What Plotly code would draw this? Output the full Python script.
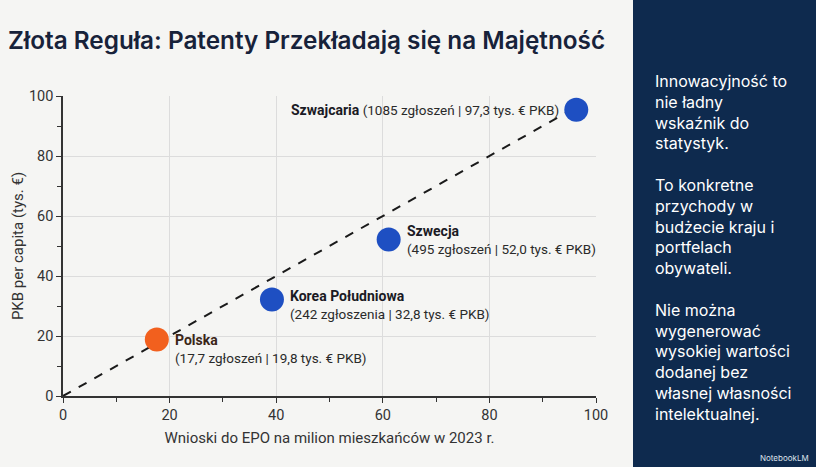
import plotly.graph_objects as go

# data
countries = ["Polska", "Korea Południowa", "Szwecja", "Szwajcaria"]
patents_per_million = [17.6, 39.2, 61.1, 96.3]
gdp_per_capita = [18.8, 32.2, 52.2, 95.4]
details = [
    "(17,7 zgłoszeń | 19,8 tys. € PKB)",
    "(242 zgłoszenia | 32,8 tys. € PKB)",
    "(495 zgłoszeń | 52,0 tys. € PKB)",
    "(1085 zgłoszeń | 97,3 tys. € PKB)",
]
trend_x = [0, 96]
trend_y = [0, 96]
x_ticks = [0, 20, 40, 60, 80, 100]
y_ticks = [0, 20, 40, 60, 80, 100]

side_text = [
    "Innowacyjność to", "nie ładny", "wskaźnik do", "statystyk.", "",
    "To konkretne", "przychody w", "budżecie kraju i", "portfelach", "obywateli.", "",
    "Nie można", "wygenerować", "wysokiej wartości", "dodanej bez",
    "własnej własności", "intelektualnej.",
]

W, H = 816, 467
BG = "#F5F5F3"
NAVY = "#0E2A4E"
ORANGE = "#F2601E"
BLUE = "#1E4FC2"
CHART_FONT = "Roboto"

fig = go.Figure()

fig.add_trace(go.Scatter(
    x=trend_x, y=trend_y, mode="lines",
    line=dict(color="#1a1a1a", width=2, dash="dash"),
    hoverinfo="skip", showlegend=False,
))

marker_colors = [ORANGE if c == "Polska" else BLUE for c in countries]
fig.add_trace(go.Scatter(
    x=patents_per_million, y=gdp_per_capita, mode="markers",
    marker=dict(size=24, color=marker_colors),
    text=countries, showlegend=False,
))

# point labels (bold name + detail line)
label_yshift = {"Polska": -9, "Korea Południowa": -6, "Szwecja": -1}
for name, px, py, det in zip(countries, patents_per_million, gdp_per_capita, details):
    name_color = "#3B2618" if name == "Polska" else "#1a1a24"
    name_html = f"<b><span style='color:{name_color};font-size:14px'>{name}</span></b>"
    if name == "Szwajcaria":
        fig.add_annotation(
            x=px, y=py, xref="x", yref="y",
            text=f"{name_html} {det}",
            showarrow=False, xanchor="right", yanchor="middle", xshift=-15,
            font=dict(family=CHART_FONT, size=13.5, color="#2a2a2a"),
        )
    else:
        fig.add_annotation(
            x=px, y=py, xref="x", yref="y",
            text=f"{name_html}<br>{det}",
            showarrow=False, xanchor="left", yanchor="middle", align="left",
            xshift=16, yshift=label_yshift[name],
            font=dict(family=CHART_FONT, size=13.5, color="#2a2a2a"),
        )

# right-hand dark panel
fig.add_shape(type="rect", xref="paper", yref="paper",
              x0=633 / W, x1=1.01, y0=-0.01, y1=1.01,
              fillcolor=NAVY, line_width=0, layer="below")

fig.add_annotation(
    xref="paper", yref="paper", x=653 / W, y=1 - 69 / H,
    text="<br>".join(side_text), showarrow=False,
    xanchor="left", yanchor="top", align="left",
    font=dict(family="Inter", size=16, color="#FFFFFF"),
)
fig.add_annotation(
    xref="paper", yref="paper", x=811 / W, y=1 - 458 / H,
    text="NotebookLM", showarrow=False, xanchor="right", yanchor="middle",
    font=dict(family="Inter", size=8, color="#DDE3EC"),
)

# title
fig.add_annotation(
    xref="paper", yref="paper", x=6 / W, y=1 - 40 / H,
    text="Złota Reguła: Patenty Przekładają się na Majętność", showarrow=False,
    xanchor="left", yanchor="middle",
    font=dict(family="Inter", size=24.3, color="#17223A", weight=600),
)

axis_common = dict(
    showline=True, linecolor="#333333", linewidth=1.5,
    ticks="outside", ticklen=5, tickcolor="#333333",
    showgrid=True, gridcolor="#DCDCDC", gridwidth=1,
    zeroline=False, automargin=False,
    tickfont=dict(family=CHART_FONT, size=14.5, color="#333333"),
    minor=dict(dtick=10, ticks="outside", ticklen=4, tickcolor="#333333", showgrid=False),
)

fig.update_xaxes(
    range=[0, 100], tickvals=x_ticks, domain=[63 / W, 596 / W],
    title=dict(text="Wnioski do EPO na milion mieszkańców w 2023 r.",
               font=dict(family=CHART_FONT, size=15, color="#333333"), standoff=9),
    **axis_common,
)
fig.update_yaxes(
    range=[0, 100], tickvals=y_ticks, domain=[1 - 396 / H, 1 - 96 / H],
    title=dict(text="PKB per capita (tys. €)",
               font=dict(family=CHART_FONT, size=15, color="#333333"), standoff=2),
    **axis_common,
)

fig.update_layout(
    width=W, height=H,
    margin=dict(l=0, r=0, t=0, b=0),
    paper_bgcolor=BG, plot_bgcolor=BG,
    showlegend=False,
)

# drop the default page margin so the figure sits at the window's corner
fig.write_html(
    "out.html",
    config={"displayModeBar": False},
    post_script="document.body.style.margin='0';document.body.style.overflow='hidden';",
)
